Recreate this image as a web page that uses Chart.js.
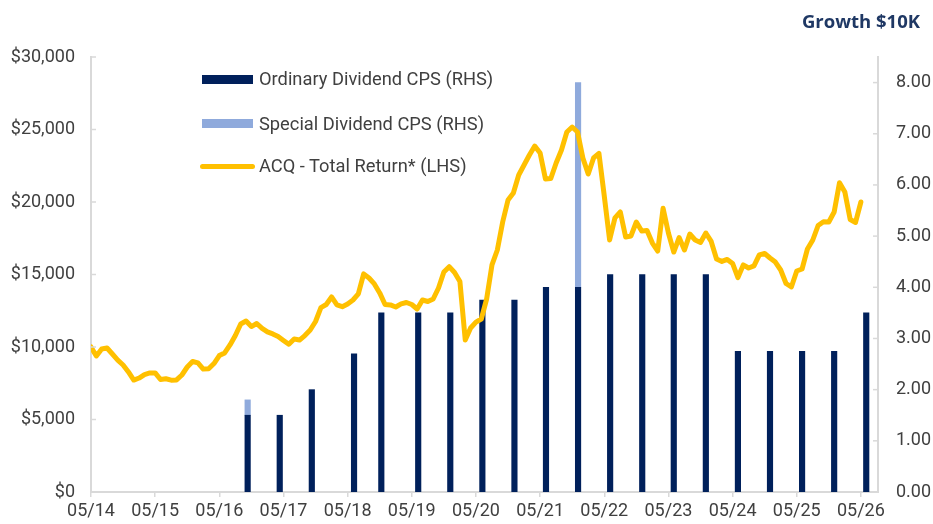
<!DOCTYPE html>
<html>
<head>
<meta charset="utf-8">
<script src="https://cdn.jsdelivr.net/npm/chart.js@4.4.1/dist/chart.umd.min.js"></script>
<style>
  html, body { margin: 0; padding: 0; background: #fff; }
  #wrap { position: relative; width: 933px; height: 524px; }
  canvas { position: absolute; left: 0; top: 0; }
  .title { position: absolute; right: 13px; top: 8px; font: bold 18.5px "Open Sans", sans-serif; color: #1F3864; line-height: 26px; }
  .lg { position: absolute; font: 18.3px Roboto, sans-serif; color: #404040; line-height: 20px; white-space: nowrap; }
  .sw { position: absolute; }
</style>
</head>
<body>
<div id="wrap">
  <canvas id="c" width="933" height="524"></canvas>
  <div class="title" id="title"></div>
  <div id="legend"></div>
</div>
<script>
// ---- Data ----
const titleText = 'Growth $10K';
const xTickLabels = ['05/14','05/15','05/16','05/17','05/18','05/19','05/20','05/21','05/22','05/23','05/24','05/25','05/26'];
const lhsTicks = [0, 5000, 10000, 15000, 20000, 25000, 30000];
const rhsTicks = [0, 1, 2, 3, 4, 5, 6, 7, 8];
const seriesNames = ['Ordinary Dividend CPS (RHS)', 'Special Dividend CPS (RHS)', 'ACQ - Total Return* (LHS)'];
const seriesColors = ['#00205B', '#8FAADC', '#FFC000'];

// Monthly total return of $10K, starting May 2014
const totalReturn = [
  10000, 9380, 9860, 9930, 9520, 9100, 8760, 8280, 7720, 7860, 8100, 8210,
  8210, 7760, 7810, 7710, 7730, 8070, 8620, 9000, 8900, 8480, 8500, 8860,
  9410, 9590, 10140, 10790, 11590, 11790, 11410, 11620, 11280, 11040, 10900, 10720,
  10450, 10190, 10550, 10480, 10790, 11170, 11760, 12720, 12930, 13450, 12900, 12780,
  12970, 13240, 13660, 15040, 14760, 14350, 13730, 12930, 12900, 12760, 12970, 13070,
  12930, 12620, 13240, 13140, 13310, 14070, 15170, 15540, 15140, 14520, 10480, 11310,
  11720, 11930, 13310, 15660, 16690, 18620, 20140, 20620, 21860, 22550, 23240, 23860,
  23380, 21590, 21620, 22690, 23590, 24830, 25170, 24830, 23040, 21930, 23040, 23350,
  20420, 17380, 18900, 19310, 17590, 17660, 18620, 18000, 18040, 17170, 16620, 19570,
  17860, 16550, 17550, 16690, 17790, 17380, 17210, 17860, 17280, 16070, 15900, 16040,
  15760, 14790, 15660, 15450, 15590, 16350, 16450, 16140, 15860, 15310, 14380, 14140,
  15240, 15380, 16760, 17380, 18380, 18640, 18620, 19310, 21330, 20690, 18790, 18590,
  20000
];
// Dividend payment months (months since May 2014) and cents per share
const divMonths  = [29.3, 35.3, 41.3, 49.2, 54.3, 61.2, 67.2, 73.2, 79.2, 85.1, 91.1, 97.1, 103.1, 109, 115, 121, 127, 133, 139, 145];
const ordinaryDiv = [1.50, 1.50, 2.00, 2.70, 3.50, 3.50, 3.50, 3.75, 3.75, 4.00, 4.00, 4.25, 4.25, 4.25, 4.25, 2.75, 2.75, 2.75, 2.75, 3.50];
const specialDiv  = [0.30, null, null, null, null, null, null, null, null, null, 4.00, null, null, null, null, null, null, null, null, null];

// ---- Build library tables ----
const lineData = totalReturn.map((v, i) => ({ x: i, y: v }));
const ordData = divMonths.map((m, i) => ({ x: m, y: ordinaryDiv[i] }));
const specData = divMonths.map((m, i) => ({ x: m, y: specialDiv[i] })).filter(p => p.y !== null);

document.getElementById('title').textContent = titleText;

// HTML legend
const legend = document.getElementById('legend');
const rows = [79, 123.5, 166];
seriesNames.forEach((name, i) => {
  const sw = document.createElement('div');
  sw.className = 'sw';
  if (i < 2) {
    sw.style.cssText = `left:202px;top:${rows[i]-4.5}px;width:51px;height:9px;background:${seriesColors[i]};`;
  } else {
    sw.style.cssText = `left:200px;top:${rows[i]-2.5}px;width:55px;height:5px;border-radius:3px;background:${seriesColors[i]};`;
  }
  legend.appendChild(sw);
  const t = document.createElement('div');
  t.className = 'lg';
  t.style.left = '259px';
  t.style.top = (rows[i] - 10) + 'px';
  t.textContent = name;
  legend.appendChild(t);
});

const axisGrey = '#D9D9D9';
const txt = '#404040';
const tickFont = { family: 'Roboto', size: 18 };

const insideTicks = {
  id: 'insideTicks',
  afterDraw(chart) {
    const { ctx, chartArea, scales } = chart;
    ctx.save();
    ctx.strokeStyle = axisGrey;
    ctx.lineWidth = 1.5;
    scales.y.ticks.forEach(t => {
      const y = scales.y.getPixelForValue(t.value);
      ctx.beginPath(); ctx.moveTo(chartArea.left, y); ctx.lineTo(chartArea.left + 5, y); ctx.stroke();
    });
    scales.y1.ticks.forEach(t => {
      const y = scales.y1.getPixelForValue(t.value);
      ctx.beginPath(); ctx.moveTo(chartArea.right - 5, y); ctx.lineTo(chartArea.right, y); ctx.stroke();
    });
    ctx.restore();
  }
};

new Chart(document.getElementById('c'), {
  type: 'bar',
  data: {
    datasets: [
      {
        type: 'line', label: seriesNames[2], data: lineData, yAxisID: 'y',
        borderColor: seriesColors[2], borderWidth: 5, pointRadius: 0, tension: 0,
        borderJoinStyle: 'round', borderCapStyle: 'round', order: 0
      },
      {
        type: 'bar', label: seriesNames[0], data: ordData, yAxisID: 'y1', stack: 'div',
        backgroundColor: seriesColors[0], barThickness: 5.5, order: 1
      },
      {
        type: 'bar', label: seriesNames[1], data: specData, yAxisID: 'y1', stack: 'div',
        backgroundColor: seriesColors[1], barThickness: 5.5, order: 1
      }
    ]
  },
  options: {
    responsive: false,
    animation: false,
    events: [],
    layout: { padding: { top: 57, left: 0, right: 0, bottom: 0 } },
    plugins: { legend: { display: false }, tooltip: { enabled: false }, title: { display: false } },
    scales: {
      x: {
        type: 'linear', min: 0, max: 147.2, stacked: true, offset: false,
        afterBuildTicks: s => { s.ticks = xTickLabels.map((l, i) => ({ value: i * 12 })); },
        afterFit: s => { s.height = 32; },
        ticks: {
          autoSkip: false, maxRotation: 0, padding: 4, color: txt, font: tickFont,
          callback: (v) => xTickLabels[Math.round(v / 12)]
        },
        grid: { display: true, offset: false, drawOnChartArea: false, drawTicks: true, tickLength: 5, color: axisGrey, lineWidth: 1.5 },
        border: { display: true, color: axisGrey, width: 2 }
      },
      y: {
        position: 'left', min: 0, max: 30000,
        afterBuildTicks: s => { s.ticks = lhsTicks.map(v => ({ value: v })); },
        afterFit: s => { s.width = 91; },
        ticks: { padding: 16, color: txt, font: tickFont, callback: v => '$' + v.toLocaleString('en-US') },
        grid: { display: false, drawTicks: false, tickLength: 0 },
        border: { display: true, color: axisGrey, width: 2 }
      },
      y1: {
        position: 'right', min: 0, max: 8.5, stacked: true,
        afterBuildTicks: s => { s.ticks = rhsTicks.map(v => ({ value: v })); },
        afterFit: s => { s.width = 55; },
        ticks: { padding: 18, color: txt, font: tickFont, callback: v => Number(v).toFixed(2) },
        grid: { display: false, drawTicks: false, tickLength: 0 },
        border: { display: true, color: axisGrey, width: 2 }
      }
    }
  },
  plugins: [insideTicks]
});
</script>
</body>
</html>
